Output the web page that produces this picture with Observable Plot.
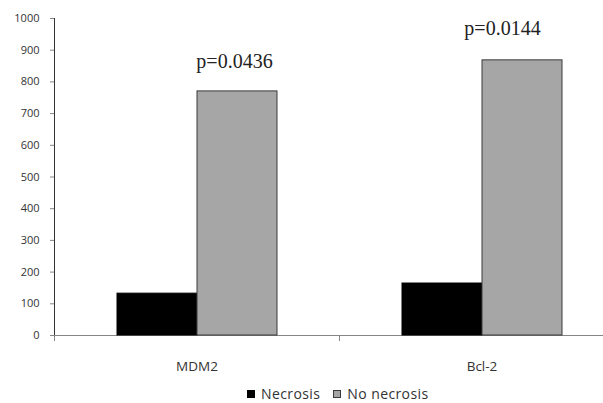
<!DOCTYPE html>
<html><head><meta charset="utf-8">
<script src="https://cdn.jsdelivr.net/npm/d3@7"></script>
<script src="https://cdn.jsdelivr.net/npm/@observablehq/plot@0.6"></script>
<style>
body{margin:0;background:#fff;}
#chart{position:relative;width:603px;height:403px;overflow:hidden;background:#fff;}
#chart svg{position:absolute;left:0;top:0;}
#chart g[aria-label^="fx-axis"] text{font-size:13.5px;}
.legend{position:absolute;left:247px;top:384px;display:flex;align-items:center;font-family:"Open Sans",sans-serif;font-size:14px;letter-spacing:0.4px;color:#333;}
.legend .sw{display:inline-block;width:8px;height:8px;box-sizing:border-box;margin-right:6px;}
.legend .item{display:flex;align-items:center;margin-right:13px;}
</style></head><body><div id="chart"></div><script>
const categories = ["MDM2", "Bcl-2"];
const series = ["Necrosis", "No necrosis"];
const necrosis = [132, 164];
const noNecrosis = [770, 868];
const pLabels = ["p=0.0436", "p=0.0144"];
const yTicks = [0, 100, 200, 300, 400, 500, 600, 700, 800, 900, 1000];
const fills = ["#000000", "#a6a6a6"];
const strokes = ["#000000", "#3a3a3a"];

const rows = categories.flatMap((c, i) => [
  {group: c, series: series[0], value: necrosis[i]},
  {group: c, series: series[1], value: noNecrosis[i]}
]);
const pRows = categories.map((c, i) => ({group: c, series: series[1], value: noNecrosis[i], label: pLabels[i]}));

const axisGray = "#868686";
const plot = Plot.plot({
  width: 603, height: 380,
  marginLeft: 54, marginRight: 0, marginTop: 18, marginBottom: 45,
  style: {fontFamily: "Open Sans, sans-serif", fontSize: "11px", color: "#333", background: "#fff"},
  fx: {domain: categories, range: [54, 624], padding: 0, label: null, tickSize: 0, tickPadding: 26},
  x: {domain: series, paddingInner: 0, paddingOuter: 0.77, axis: null},
  y: {domain: [0, 1000], ticks: yTicks, tickFormat: d => String(d), tickSize: 4, tickPadding: 11, label: null, line: true},
  color: {domain: series, range: fills},
  marks: [
    Plot.ruleY([0], {stroke: axisGray}),
    Plot.frame({anchor: "left", stroke: axisGray, insetTop: 317, insetBottom: -5}),
    Plot.barY(rows, {fx: "group", x: "series", y: "value", fill: "series", stroke: d => strokes[series.indexOf(d.series)], strokeWidth: 1}),
    Plot.text([pRows[0]], {fx: "group", x: "series", y: "value", text: "label", dy: -30, dx: -3, fontFamily: "Liberation Serif, serif", fontSize: 20, fill: "#222"}),
    Plot.text([pRows[1]], {fx: "group", x: "series", y: "value", text: "label", dy: -32, dx: -20, fontFamily: "Liberation Serif, serif", fontSize: 20, fill: "#222"})
  ]
});
const chart = document.getElementById("chart");
chart.appendChild(plot);
d3.select(plot).selectAll('g[aria-label^="y-axis"] path, g[aria-label^="y-axis"] line').attr("stroke", axisGray);

const legend = document.createElement("div");
legend.className = "legend";
series.forEach((s, i) => {
  const item = document.createElement("span");
  item.className = "item";
  const sw = document.createElement("span");
  sw.className = "sw";
  sw.style.background = fills[i];
  sw.style.border = "1px solid " + strokes[i];
  item.appendChild(sw);
  item.appendChild(document.createTextNode(s));
  legend.appendChild(item);
});
chart.appendChild(legend);
</script></body></html>
